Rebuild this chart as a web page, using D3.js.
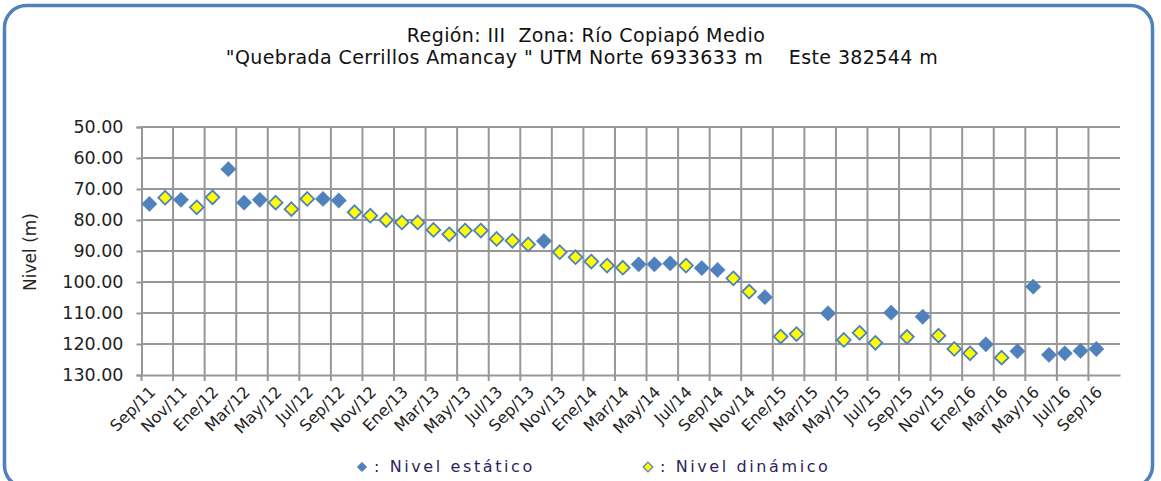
<!DOCTYPE html>
<html>
<head>
<meta charset="utf-8">
<script src="https://cdn.jsdelivr.net/npm/d3@7/dist/d3.min.js"></script>
<style>
  html, body { margin: 0; padding: 0; background: #fff; }
  svg { display: block; }
  text { font-family: "DejaVu Sans", Verdana, sans-serif; }
</style>
</head>
<body>
<svg id="chart" width="1161" height="481"></svg>
<script>
// Monthly readings, Sep/11 .. Oct/16
const monthNames = ["Ene","Feb","Mar","Abr","May","Jun","Jul","Ago","Sep","Oct","Nov","Dic"];
const months = [];
for (let k = 0; k < 62; k++) {
  const m = (8 + k) % 12;
  const yr = 11 + Math.floor((8 + k) / 12);
  months.push(monthNames[m] + "/" + yr);
}
// Axis labels shown every second month
const tickLabels = months.filter((d, i) => i % 2 === 0 && i <= 60);

// Static level (m), null where the reading was dynamic
const nivelEstatico = [
  74.8, null, 73.5, null, null, 63.6, 74.4, 73.5, null, null,
  null, 73.2, 73.7, null, null, null, null, null, null, null,
  null, null, null, null, null, 86.8, null, null, null, null,
  null, 94.3, 94.3, 94.0, null, 95.5, 96.1, null, null, 104.9,
  null, null, null, 110.1, null, null, null, 109.9, null, 111.2,
  null, null, null, 120.1, null, 122.3, 101.5, 123.5, 123.0, 122.2,
  121.6, null
];
// Dynamic level (m)
const nivelDinamico = [
  null, 72.8, null, 75.9, 72.7, null, null, null, 74.4, 76.5,
  73.2, null, null, 77.5, 78.6, 80.0, 80.8, 80.8, 83.2, 84.6,
  83.4, 83.4, 86.1, 86.7, 87.9, null, 90.4, 92.0, 93.4, 94.7,
  95.4, null, null, null, 94.7, null, null, 98.8, 103.1, null,
  117.6, 116.8, null, null, 118.7, 116.4, 119.6, null, 117.7, null,
  117.3, 121.6, 123.0, null, 124.4, null, null, null, null, null,
  null, null
];
const yTicks = [50, 60, 70, 80, 90, 100, 110, 120, 130];

const svg = d3.select("#chart");
const plotLeft = 141.5, plotRight = 1120, plotTop = 127, plotBottom = 375;

const x = d3.scaleBand().domain(months).range([plotLeft, plotRight]).padding(0);
const y = d3.scaleLinear().domain([50, 130]).range([plotTop, plotBottom]);

// Outer rounded frame
svg.append("rect")
  .attr("x", 4.5).attr("y", 5.5)
  .attr("width", 1148).attr("height", 482)
  .attr("rx", 22).attr("ry", 22)
  .attr("fill", "#fff")
  .attr("stroke", "#4f81bd").attr("stroke-width", 3.5);

// Title
const title = svg.append("text")
  .attr("text-anchor", "middle")
  .attr("font-size", 19)
  .attr("letter-spacing", 0.4)
  .attr("fill", "#111")
  .style("white-space", "pre");
title.append("tspan").attr("x", 586).attr("y", 42).text("Región: III  Zona: Río Copiapó Medio");
title.append("tspan").attr("x", 582).attr("y", 64)
  .text("\"Quebrada Cerrillos Amancay \" UTM Norte 6933633 m    Este 382544 m");

const gridColor = "#979797";

// Horizontal gridlines
svg.append("g")
  .selectAll("line")
  .data(yTicks.slice(0, -1))
  .join("line")
  .attr("x1", plotLeft).attr("x2", plotRight)
  .attr("y1", d => y(d)).attr("y2", d => y(d))
  .attr("stroke", gridColor).attr("stroke-width", 2);

// Vertical gridlines at every second category boundary
svg.append("g")
  .selectAll("line")
  .data(tickLabels.slice(1))
  .join("line")
  .attr("x1", d => x(d)).attr("x2", d => x(d))
  .attr("y1", plotTop).attr("y2", plotBottom)
  .attr("stroke", gridColor).attr("stroke-width", 2);

// Y axis
const yAxis = d3.axisLeft(y).tickValues(yTicks).tickFormat(d3.format(".2f")).tickSize(5).tickPadding(13);
const gy = svg.append("g").attr("transform", `translate(${plotLeft},0)`).call(yAxis);
gy.select(".domain").attr("stroke", gridColor).attr("stroke-width", 2);
gy.selectAll(".tick line").attr("stroke", gridColor).attr("stroke-width", 2);
gy.selectAll(".tick text").attr("font-size", 17.5).attr("fill", "#222")
  .attr("font-family", "DejaVu Sans, Verdana, sans-serif");

// X axis
const xAxis = d3.axisBottom(x).tickValues(tickLabels).tickSize(0).tickSizeOuter(0);
const gx = svg.append("g").attr("transform", `translate(0,${plotBottom})`).call(xAxis);
gx.select(".domain").attr("stroke", gridColor).attr("stroke-width", 2);
gx.selectAll(".tick text")
  .attr("font-size", 16).attr("fill", "#222")
  .attr("font-family", "DejaVu Sans, Verdana, sans-serif")
  .attr("text-anchor", "end")
  .attr("transform", "translate(3,14) rotate(-45)")
  .attr("dy", "0.35em").attr("y", 0);
// Small tick marks below the axis at category boundaries
svg.append("g")
  .selectAll("line")
  .data(tickLabels)
  .join("line")
  .attr("x1", d => x(d)).attr("x2", d => x(d))
  .attr("y1", plotBottom).attr("y2", plotBottom + 6)
  .attr("stroke", gridColor).attr("stroke-width", 2);

// Y axis title
svg.append("text")
  .attr("transform", "translate(36,252) rotate(-90)")
  .attr("text-anchor", "middle")
  .attr("font-size", 17).attr("fill", "#222")
  .text("Nivel (m)");

const diamond = d3.symbol().type(d3.symbolDiamond2);
const cx = i => x(months[i]) + x.bandwidth() / 2;

// Static level markers
svg.append("g")
  .selectAll("path")
  .data(nivelEstatico.map((v, i) => ({ v, i })).filter(d => d.v !== null))
  .join("path")
  .attr("d", diamond.size(150)())
  .attr("transform", d => `translate(${cx(d.i)},${y(d.v)})`)
  .attr("fill", "#4f81bd").attr("stroke", "#4a7ebb").attr("stroke-width", 0.5);

// Dynamic level markers
svg.append("g")
  .selectAll("path")
  .data(nivelDinamico.map((v, i) => ({ v, i })).filter(d => d.v !== null))
  .join("path")
  .attr("d", diamond.size(120)())
  .attr("transform", d => `translate(${cx(d.i)},${y(d.v)})`)
  .attr("fill", "#ffff00").attr("stroke", "#4f81bd").attr("stroke-width", 1.8);

// Legend
const legend = [
  { label: ": Nivel estático", fill: "#4f81bd", stroke: "#4a7ebb", sw: 0.5, x: 362 },
  { label: ": Nivel dinámico", fill: "#ffff00", stroke: "#4f81bd", sw: 1.2, x: 648 }
];
const lg = svg.append("g").selectAll("g").data(legend).join("g")
  .attr("transform", d => `translate(${d.x},467)`);
lg.append("path")
  .attr("d", diamond.size(60)())
  .attr("fill", d => d.fill).attr("stroke", d => d.stroke).attr("stroke-width", d => d.sw);
lg.append("text")
  .attr("x", 12).attr("y", 5)
  .attr("font-size", 16).attr("letter-spacing", 2.6)
  .attr("fill", "#2e1f5e")
  .text(d => d.label);
</script>
</body>
</html>
